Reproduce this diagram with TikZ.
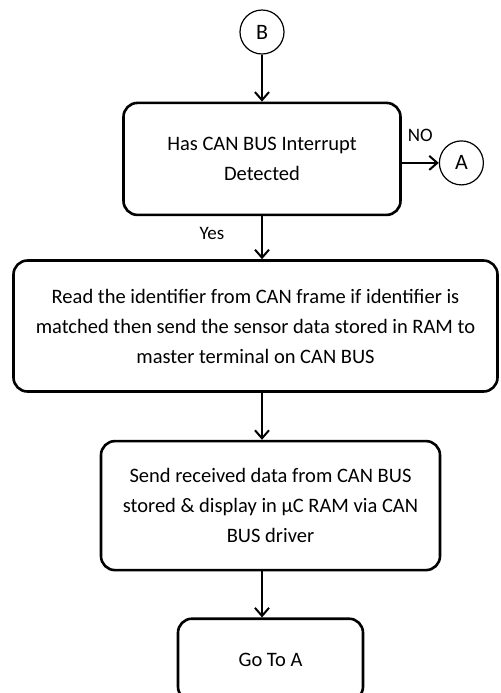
\documentclass[tikz,border=0pt]{standalone}
\usepackage{fontspec}
\setmainfont{Carlito}
\usepackage{tikz}
\usetikzlibrary{arrows.meta,positioning}
\tikzset{
    flowbox/.style={draw=black,line width=1.3pt,rounded corners=7pt,align=center,inner sep=0pt,font=\fontsize{10.25}{15}\selectfont},
    connnode/.style={circle,draw=black,line width=0.6pt,minimum size=22pt,inner sep=0pt,font=\fontsize{11}{13}\selectfont},
    edgelabel/.style={font=\fontsize{9.5}{11}\selectfont}
}
\begin{document}
\begin{tikzpicture}[->,>={Straight Barb[length=4pt,width=7pt]},line width=1pt]
				\useasboundingbox (0,0) rectangle (250pt,-346.5pt);
				
				\node[connnode](B) at (131pt,-16pt){B};
				\node[flowbox,minimum width=138.5pt,minimum height=56pt,below=23.5pt of B](detect){Has CAN BUS Interrupt\\Detected};
				\node[connnode,right=18.5pt of detect,yshift=-2pt](A){A};
				\node[flowbox,minimum width=242pt,minimum height=65.5pt,below=21.5pt of detect,xshift=-3.25pt](readid){Read the identifier from CAN frame if identifier is\\matched then send the sensor data stored in RAM to\\master terminal on CAN BUS};
				\node[flowbox,minimum width=169.5pt,minimum height=64.5pt,below=23.5pt of readid,xshift=7.5pt](store){Send received data from CAN BUS\\stored \& display in µC RAM via CAN\\BUS driver};
				\node[flowbox,minimum width=92.5pt,minimum height=41pt,below=23pt of store](goto){Go To A};
				
				\path
				(B) edge (B |- detect.north)
				(detect.east |- A) edge node[edgelabel,above=7pt] {NO} (A)
				(B |- detect.south) edge node[edgelabel,left=15pt,pos=.4] {Yes} (B |- readid.north)
				(B |- readid.south) edge (B |- store.north)
				(B |- store.south) edge (B |- goto.north);
			\end{tikzpicture}
\end{document}
